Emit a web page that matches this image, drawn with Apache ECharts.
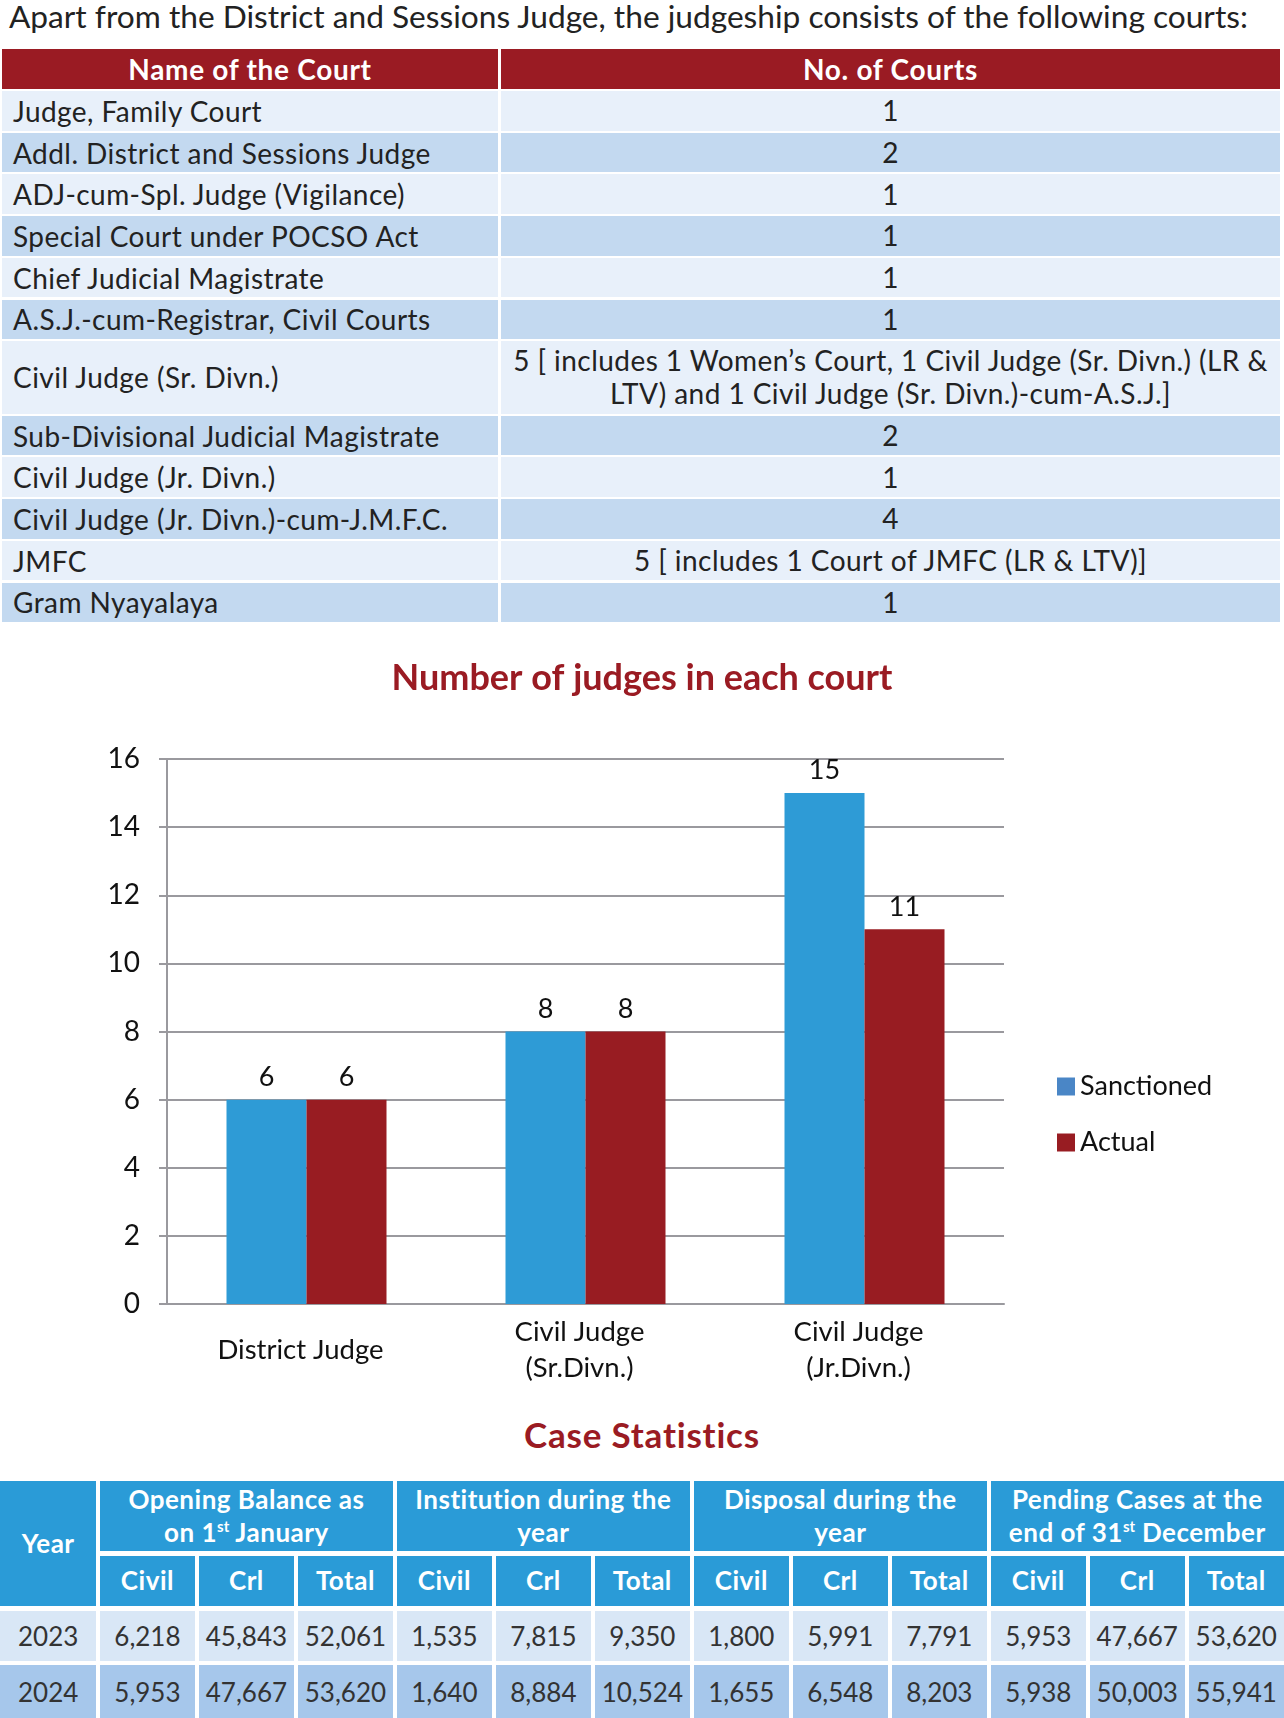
<!DOCTYPE html>
<html><head><meta charset="utf-8">
<script src="https://cdn.jsdelivr.net/npm/echarts@6/dist/echarts.min.js"></script>
<style>
html,body{margin:0;padding:0;background:#fff;width:1284px;height:1718px;overflow:hidden;font-family:Lato,"Noto Sans",sans-serif;color:#222;}
#intro{position:absolute;left:9px;top:-3px;font-size:28px;line-height:1.2;white-space:nowrap;color:#222;}
.c{position:absolute;box-sizing:border-box;display:flex;align-items:center;overflow:hidden;white-space:nowrap;}
.t1h{background:#9a1b23;color:#fff;font-weight:bold;font-size:28px;letter-spacing:0.7px;justify-content:center;}
.t1a{background:#e8f0fa;font-size:28px;letter-spacing:0.45px;}
.t1b{background:#c3d9f0;font-size:28px;letter-spacing:0.45px;}
.left{padding-left:11px;justify-content:flex-start;}
.mid{justify-content:center;text-align:center;line-height:33px;}
.hb{background:#2a9bd7;color:#fff;font-weight:bold;font-size:26px;letter-spacing:0.5px;justify-content:center;text-align:center;line-height:33px;}
.d1{background:#d9e7f6;font-size:26px;justify-content:center;color:#333;}
.d2{background:#a6c7eb;font-size:26px;justify-content:center;color:#333;}
sup{font-size:15px;line-height:0;vertical-align:10px;letter-spacing:0;}
#title2{position:absolute;left:0;width:1284px;top:1412px;text-align:center;font-weight:bold;font-size:35px;letter-spacing:0.8px;color:#9a1b23;line-height:44px;}
#chart{position:absolute;left:0;top:640px;width:1284px;height:760px;}
</style>
</head><body>
<div id="intro">Apart from the District and Sessions Judge, the judgeship consists of the following courts:</div>
<div id="t1"></div>
<div id="chart"></div>
<div id="title2">Case Statistics</div>
<div id="t2"></div>
<script>
// ---- Court table data ----
const courtHeader = ['Name of the Court', 'No. of Courts'];
const courtNames = ['Judge, Family Court','Addl. District and Sessions Judge','ADJ-cum-Spl. Judge (Vigilance)','Special Court under POCSO Act','Chief Judicial Magistrate','A.S.J.-cum-Registrar, Civil Courts','Civil Judge (Sr. Divn.)','Sub-Divisional Judicial Magistrate','Civil Judge (Jr. Divn.)','Civil Judge (Jr. Divn.)-cum-J.M.F.C.','JMFC','Gram Nyayalaya'];
const courtCounts = ['1','2','1','1','1','1','5 [ includes 1 Women\u2019s Court, 1 Civil Judge (Sr. Divn.) (LR &amp;<br>LTV) and 1 Civil Judge (Sr. Divn.)-cum-A.S.J.]','2','1','4','5 [ includes 1 Court of JMFC (LR &amp; LTV)]','1'];

// ---- Chart data ----
const categories = ['District Judge', 'Civil Judge\n(Sr.Divn.)', 'Civil Judge\n(Jr.Divn.)'];
const sanctioned = [6, 8, 15];
const actual = [6, 8, 11];
const yMin = 0, yMax = 16, yInterval = 2;

// ---- Case statistics data ----
const statGroups = ['Opening Balance as<br>on 1<sup>st</sup> January','Institution during the<br>year','Disposal during the<br>year','Pending Cases at the<br>end of 31<sup>st</sup> December'];
const statSub = ['Civil','Crl','Total'];
const years = ['2023','2024'];
const stats2023 = ['6,218','45,843','52,061','1,535','7,815','9,350','1,800','5,991','7,791','5,953','47,667','53,620'];
const stats2024 = ['5,953','47,667','53,620','1,640','8,884','10,524','1,655','6,548','8,203','5,938','50,003','55,941'];

function cell(parent, cls, x, y, w, h, html){
  const d=document.createElement('div');
  d.className='c '+cls;
  d.style.left=x+'px';d.style.top=y+'px';d.style.width=w+'px';d.style.height=h+'px';
  d.innerHTML='<span>'+html+'</span>';
  parent.appendChild(d);return d;
}
// fit intro width
(function(){const el=document.getElementById('intro');const w=el.scrollWidth;el.style.fontSize=(28*1240/w)+'px';})();

// table 1
(function(){
  const p=document.getElementById('t1');
  const c1x=2,c1w=496,c2x=501,c2w=779,gap=2;
  let y=49.3;
  const pitch=41.7;
  cell(p,'t1h',c1x,y,c1w,pitch-gap,courtHeader[0]);
  cell(p,'t1h',c2x,y,c2w,pitch-gap,courtHeader[1]);
  y+=pitch;
  courtNames.forEach((n,i)=>{
    const h = courtCounts[i].indexOf('<br>')>=0 ? 74.5 : pitch;
    const cls = i%2===0?'t1a':'t1b';
    cell(p,cls+' left',c1x,y,c1w,h-gap,n);
    cell(p,cls+' mid',c2x,y,c2w,h-gap,courtCounts[i]);
    y+=h;
  });
})();

// table 2
(function(){
  const p=document.getElementById('t2');
  const yearW=96.4, start=99.7, gap=3.5;
  const pitch=(1284-start+gap)/12;
  const cw=pitch-gap;
  const rows=[[1481.3,70.1],[1555.8,50.4],[1610.5,50.6],[1665.4,53]];
  cell(p,'hb',0,rows[0][0],yearW,rows[1][0]+rows[1][1]-rows[0][0],'Year');
  statGroups.forEach((g,gi)=>{
    cell(p,'hb',start+gi*3*pitch,rows[0][0],3*pitch-gap,rows[0][1],g);
    statSub.forEach((s,si)=>{
      cell(p,'hb',start+(gi*3+si)*pitch,rows[1][0],cw,rows[1][1],s);
    });
  });
  [stats2023,stats2024].forEach((arr,ri)=>{
    const cls=ri===0?'d1':'d2';
    const r=rows[2+ri];
    cell(p,cls,0,r[0],yearW,r[1],years[ri]);
    arr.forEach((v,ci)=>cell(p,cls,start+ci*pitch,r[0],cw,r[1],v));
  });
})();

// chart
const chart=echarts.init(document.getElementById('chart'),null,{renderer:'canvas'});
const gray='#9a999e';
chart.setOption({
  animation:false,
  textStyle:{fontFamily:'Lato'},
  title:{text:'Number of judges in each court',left:'center',top:15,textStyle:{color:'#9a1b23',fontSize:36,fontWeight:'bold',fontFamily:'Lato'}},
  legend:{orient:'vertical',left:1052,top:428,itemWidth:18,itemHeight:18,itemGap:29,icon:'rect',
    textStyle:{fontSize:27,color:'#111',fontFamily:'Lato'},
    data:[{name:'Sanctioned',itemStyle:{color:'#4a86c6'}},{name:'Actual'}]},
  grid:{left:167,right:280,top:119,bottom:96},
  xAxis:{type:'category',data:categories,
    axisLine:{lineStyle:{color:gray,width:2}},
    axisTick:{length:86,lineStyle:{color:gray,width:2}},
    axisLabel:{fontSize:27.5,color:'#111',lineHeight:36,margin:46,verticalAlign:'middle',fontFamily:'Lato',padding:[0,12,0,0]}},
  yAxis:{type:'value',min:yMin,max:yMax,interval:yInterval,
    axisLine:{show:true,lineStyle:{color:gray,width:2}},
    axisTick:{show:true,length:8,lineStyle:{color:gray,width:2}},
    axisLabel:{fontSize:28,color:'#111',margin:27,fontFamily:'Lato'},
    splitLine:{lineStyle:{color:gray,width:2}}},
  series:[
    {name:'Sanctioned',type:'bar',data:sanctioned,barWidth:80,barGap:'0%',itemStyle:{color:'#2e9bd6'},
      label:{show:true,position:'top',fontSize:27,color:'#111',distance:9,fontFamily:'Lato'}},
    {name:'Actual',type:'bar',data:actual,barWidth:80,barGap:'0%',itemStyle:{color:'#981c22'},
      label:{show:true,position:'top',fontSize:27,color:'#111',distance:9,fontFamily:'Lato'}}
  ]
});
</script>
</body></html>
